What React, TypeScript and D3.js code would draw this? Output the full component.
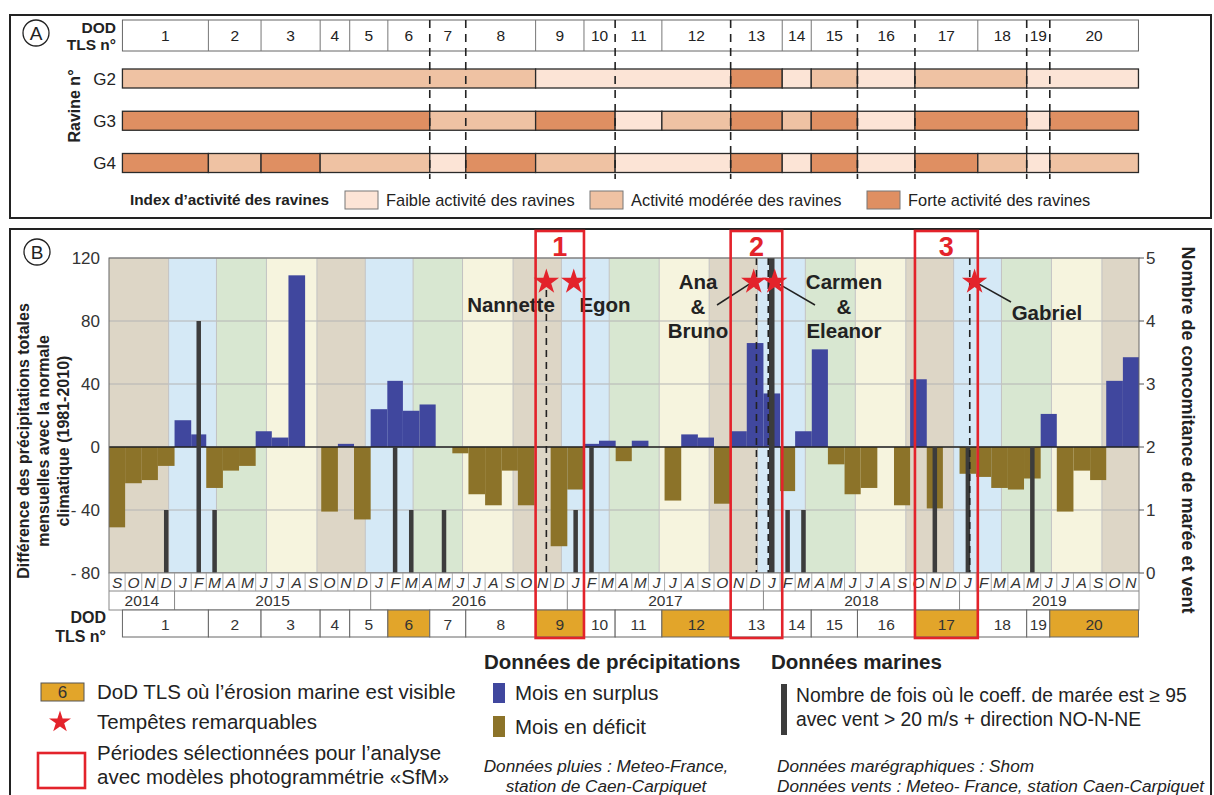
import React from "react";
import * as d3 from "d3";

const FONT = "'Liberation Sans', Arial, Helvetica, sans-serif";
const parse = d3.timeParse("%Y-%m-%d") as (s: string) => Date;

// ---------------- DATA ----------------
// Panel A : DoD TLS surveys
const dodNumbers = d3.range(1, 21);
const dodBoundaryDates = [
  "2014-09-26", "2015-03-05", "2015-06-11", "2015-09-29", "2015-11-23",
  "2016-02-02", "2016-04-20", "2016-06-26", "2016-11-03", "2017-02-01",
  "2017-03-31", "2017-06-26", "2017-11-01", "2018-02-05", "2018-03-31",
  "2018-06-25", "2018-10-10", "2019-02-04", "2019-05-06", "2019-06-18",
  "2019-11-30",
];
const marineErosionDods = [6, 9, 12, 17, 20];
const dashedAfterDod = [6, 7, 10, 12, 15, 16, 18, 19];
const ravineNames = ["G2", "G3", "G4"];
// 1 = faible, 2 = modérée, 3 = forte
const activityG2 = [2, 2, 2, 2, 2, 2, 2, 2, 1, 1, 1, 1, 3, 1, 2, 1, 2, 2, 1, 1];
const activityG3 = [3, 3, 3, 3, 3, 3, 2, 2, 3, 3, 1, 2, 3, 2, 3, 1, 3, 3, 1, 3];
const activityG4 = [3, 2, 3, 2, 2, 2, 1, 3, 2, 2, 1, 1, 3, 1, 3, 1, 3, 2, 1, 2];
const activityLabels = [
  "Faible activité des ravines",
  "Activité modérée des ravines",
  "Forte activité des ravines",
];

// Panel B : monthly data from Sep 2014 to Nov 2019
const monthStartDate = "2014-09-01";
const monthEndDate = "2019-12-01";
const monthLetters = ["J", "F", "M", "A", "M", "J", "J", "A", "S", "O", "N", "D"];
const yearLabels = [2014, 2015, 2016, 2017, 2018, 2019];
const precipitationDiff = [
  -51, -23, -21, -12, // 2014 S O N D
  17, 8, -26, -15, -12, 10, 6, 109, 0, -41, 2, -46, // 2015
  24, 42, 23, 27, 0, -4, -30, -37, -15, -37, 0, -63, // 2016
  -27, 2, 4, -9, 4, 0, -34, 8, 6, -36, 10, 66, // 2017
  34, -28, 10, 62, -11, -30, -26, 0, -37, 43, -39, 0, // 2018
  -17, -19, -26, -27, -20, 21, -41, -15, -21, 42, 57, // 2019 J..N
];
const marineMonthIndex = [3, 5, 6, 17, 18, 20, 28, 29, 40, 41, 42, 50, 52, 56];
const marineCount = [1, 4, 1, 2, 1, 1, 1, 2, 5, 1, 1, 2, 2, 2];
const seasonStarts = [
  "2014-09-01", "2014-12-21", "2015-03-20", "2015-06-21", "2015-09-23",
  "2015-12-22", "2016-03-20", "2016-06-20", "2016-09-22", "2016-12-21",
  "2017-03-20", "2017-06-21", "2017-09-22", "2017-12-21", "2018-03-20",
  "2018-06-21", "2018-09-23", "2018-12-21", "2019-03-20", "2019-06-21",
  "2019-09-23",
];
const seasonKinds = ["autumn", "winter", "spring", "summer"];
const leftTicks = [120, 80, 40, 0, -40, -80];
const leftTickLabels = ["120", "80", "40", "0", "- 40", "- 80"];
const rightTicks = [0, 1, 2, 3, 4, 5];
const stormLabels = [["Nannette"], ["Egon"], ["Ana", "&", "Bruno"], ["Carmen", "&", "Eleanor"], ["Gabriel"]];
const stormStarDates = ["2016-11-23", "2017-01-13", "2017-12-14", "2018-01-22", "2019-01-29"];
const stormLineDates = ["2016-11-23", null, "2017-12-19", "2018-01-10", "2019-01-20"];
const sfmPeriods = [9, 13, 17];

// ---------------- LAYOUT / STYLE ----------------
const W = 1214;
const H = 795;
const COL = {
  faible: "#fce4d6",
  moderee: "#efc2a3",
  forte: "#df8f62",
  autumn: "#ddd6c6",
  winter: "#d5e9f6",
  spring: "#d8e7d1",
  summer: "#f6f4de",
  surplus: "#40479e",
  deficit: "#8c7329",
  marine: "#3c3c3c",
  orange: "#e2a52a",
  red: "#e3232b",
  grid: "#b4b4b4",
};
const activityColors = [COL.faible, COL.moderee, COL.forte];
const seasonColor: Record<string, string> = {
  autumn: COL.autumn, winter: COL.winter, spring: COL.spring, summer: COL.summer,
};
const stormLayout = [
  { x: 511, y: 312, leader: null as null | number[] },
  { x: 605, y: 312, leader: null },
  { x: 698, y: 289, leader: [717, 305] },
  { x: 844, y: 289, leader: [815, 305] },
  { x: 1047, y: 320, leader: [1011, 302] },
];

function runs(arr: number[]) {
  const out: { s: number; e: number; v: number }[] = [];
  let s = 0;
  for (let i = 1; i <= arr.length; i++) {
    if (i === arr.length || arr[i] !== arr[s]) {
      out.push({ s, e: i, v: arr[s] });
      s = i;
    }
  }
  return out;
}

export default function App() {
  const t0 = parse(monthStartDate);
  const t1 = parse(monthEndDate);
  const plotL = 109, plotR = 1139, plotT = 258, plotB = 573;
  const x = d3.scaleTime().domain([t0, t1]).range([plotL, plotR]);
  const y = d3.scaleLinear().domain([-80, 120]).range([plotB, plotT]);
  const y2 = d3.scaleLinear().domain([0, 5]).range([plotB, plotT]);

  const dodX = dodBoundaryDates.map((d) => x(parse(d)));
  const months = precipitationDiff.map((v, i) => {
    const a = d3.timeMonth.offset(t0, i);
    const b = d3.timeMonth.offset(t0, i + 1);
    return { v, a, b, letter: monthLetters[a.getMonth()] };
  });

  const seasons = seasonStarts.map((s, i) => ({
    a: parse(s),
    b: i + 1 < seasonStarts.length ? parse(seasonStarts[i + 1]) : t1,
    kind: seasonKinds[i % 4],
  }));

  const starPath = d3.symbol().type(d3.symbolStar).size(200)() as string;
  const starPathSmall = d3.symbol().type(d3.symbolStar).size(150)() as string;

  // Panel A rows
  const rowY = d3.scalePoint<string>().domain(ravineNames).range([78.5, 163]);
  const rowH = 19;
  const activities = [activityG2, activityG3, activityG4];
  const hdrT = 20, hdrB = 51;

  // Panel B rows under plot
  const mRowT = plotB, mRowB = 591, yRowB = 610, dRowB = 637;

  return (
    <svg
      width={W}
      height={H}
      viewBox={`0 0 ${W} ${H}`}
      style={{ position: "absolute", left: 0, top: 0, background: "#fff", fontFamily: FONT }}
    >
      {/* ================= PANEL A ================= */}
      <rect x={10} y={15} width={1201} height={203} fill="none" stroke="#222" strokeWidth={2} />
      <circle cx={36} cy={33} r={13} fill="none" stroke="#222" strokeWidth={1.3} />
      <text x={36} y={40} textAnchor="middle" fontSize={19} fill="#222">A</text>
      <text x={116} y={33} textAnchor="end" fontSize={15.5} fontWeight="bold" fill="#222">DOD</text>
      <text x={116} y={50} textAnchor="end" fontSize={15.5} fontWeight="bold" fill="#222">TLS n°</text>

      {/* header cells */}
      <rect x={dodX[0]} y={hdrT} width={dodX[20] - dodX[0]} height={hdrB - hdrT} fill="#fff" stroke="#666" strokeWidth={1} />
      {dodNumbers.map((n, i) => (
        <g key={`h${n}`}>
          {i > 0 && !dashedAfterDod.includes(i) && (
            <line x1={dodX[i]} x2={dodX[i]} y1={hdrT} y2={hdrB} stroke="#777" strokeWidth={1} />
          )}
          <text x={(dodX[i] + dodX[i + 1]) / 2} y={41} textAnchor="middle" fontSize={15.5} fill="#222">{n}</text>
        </g>
      ))}

      {/* ravine rows */}
      {ravineNames.map((r, ri) => (
        <g key={r}>
          {runs(activities[ri]).map((seg, k) => (
            <rect
              key={k}
              x={dodX[seg.s]}
              y={(rowY(r) as number) - rowH / 2}
              width={dodX[seg.e] - dodX[seg.s]}
              height={rowH}
              fill={activityColors[seg.v - 1]}
              stroke="#2a2a2a"
              strokeWidth={1.3}
            />
          ))}
          <text x={116} y={(rowY(r) as number) + 6} textAnchor="end" fontSize={17} fill="#222">{r}</text>
        </g>
      ))}
      <text
        transform={`translate(80,${106}) rotate(-90)`}
        textAnchor="middle"
        fontSize={16}
        fontWeight="bold"
        fill="#222"
      >
        Ravine n°
      </text>
      {dashedAfterDod.map((n) => (
        <line key={`dl${n}`} x1={dodX[n]} x2={dodX[n]} y1={hdrT} y2={179} stroke="#222" strokeWidth={1.6} strokeDasharray="8 6" />
      ))}

      {/* panel A legend */}
      <text x={130} y={205} fontSize={15.3} fontWeight="bold" fill="#222">Index d’activité des ravines</text>
      {activityLabels.map((lab, i) => {
        const sx = [345, 590, 867][i];
        return (
          <g key={lab}>
            <rect x={sx} y={191} width={33} height={18} fill={activityColors[i]} stroke="#777" strokeWidth={1} />
            <text x={sx + 41} y={206} fontSize={16.4} fill="#222">{lab}</text>
          </g>
        );
      })}

      {/* ================= PANEL B ================= */}
      <rect x={10} y={229} width={1201} height={600} fill="none" stroke="#222" strokeWidth={2} />
      <circle cx={37} cy={252} r={13} fill="none" stroke="#222" strokeWidth={1.3} />
      <text x={37} y={259} textAnchor="middle" fontSize={19} fill="#222">B</text>

      {/* seasons */}
      {seasons.map((s, i) => (
        <rect key={`s${i}`} x={x(s.a)} y={plotT} width={x(s.b) - x(s.a)} height={plotB - plotT} fill={seasonColor[s.kind]} />
      ))}
      {/* gridlines */}
      {leftTicks.map((t) => (
        <line key={`g${t}`} x1={plotL} x2={plotR} y1={y(t)} y2={y(t)} stroke={COL.grid} strokeWidth={1} />
      ))}
      {seasons.slice(1).map((s, i) => (
        <line key={`sv${i}`} x1={x(s.a)} x2={x(s.a)} y1={plotT} y2={plotB} stroke="#c2c2c2" strokeWidth={1} />
      ))}

      {/* precipitation bars */}
      {months.map((m, i) =>
        m.v === 0 ? null : (
          <rect
            key={`p${i}`}
            x={x(m.a)}
            width={x(m.b) - x(m.a)}
            y={m.v > 0 ? y(m.v) : y(0)}
            height={Math.abs(y(m.v) - y(0))}
            fill={m.v > 0 ? COL.surplus : COL.deficit}
          />
        )
      )}
      <line x1={plotL} x2={plotR} y1={y(0)} y2={y(0)} stroke="#222" strokeWidth={1.3} />

      {/* marine bars */}
      {marineMonthIndex.map((mi, k) => {
        const a = d3.timeMonth.offset(t0, mi);
        const b = d3.timeMonth.offset(t0, mi + 1);
        const cx = (x(a) + x(b)) / 2;
        const w = marineCount[k] >= 5 ? 5.5 : 4.5;
        return (
          <rect key={`mr${k}`} x={cx - w / 2} width={w} y={y2(marineCount[k])} height={y2(0) - y2(marineCount[k])} fill={COL.marine} />
        );
      })}

      {/* storm dashed lines */}
      {stormLineDates.map((d, i) =>
        d ? (
          <line key={`sl${i}`} x1={x(parse(d))} x2={x(parse(d))} y1={i === 0 ? 290 : plotT} y2={plotB} stroke="#222" strokeWidth={1.6} strokeDasharray="7 5" />
        ) : null
      )}

      {/* plot frame */}
      <rect x={plotL} y={plotT} width={plotR - plotL} height={plotB - plotT} fill="none" stroke="#666" strokeWidth={1} />

      {/* storms */}
      {stormStarDates.map((d, i) => {
        const sx = x(parse(d));
        const sy = y2(4.62);
        const L = stormLayout[i];
        return (
          <g key={`st${i}`}>
            {L.leader && (
              <line x1={sx + (L.leader[0] > sx ? 4 : -4)} y1={sy + 2} x2={L.leader[0]} y2={L.leader[1]} stroke="#222" strokeWidth={1.5} />
            )}
            <path d={starPath} transform={`translate(${sx},${sy})`} fill={COL.red} />
            {stormLabels[i].map((line, j) => (
              <text key={j} x={L.x} y={L.y + j * 24.5} textAnchor="middle" fontSize={20.5} fontWeight="bold" fill="#222">
                {line}
              </text>
            ))}
          </g>
        );
      })}

      {/* left axis */}
      {leftTicks.map((t, i) => (
        <text key={`lt${t}`} x={100} y={y(t) + 6} textAnchor="end" fontSize={17} fill="#333">{leftTickLabels[i]}</text>
      ))}
      <text transform={`translate(0,441) rotate(-90)`} textAnchor="middle" fontSize={16} fontWeight="bold" fill="#222">
        <tspan x={0} y={29}>Différence des précipitations totales</tspan>
        <tspan x={0} y={49}>mensuelles avec la normale</tspan>
        <tspan x={0} y={69}>climatique (1981-2010)</tspan>
      </text>

      {/* right axis */}
      {rightTicks.map((t) => (
        <g key={`rt${t}`}>
          <line x1={plotR} x2={plotR + 5} y1={y2(t)} y2={y2(t)} stroke="#555" strokeWidth={1} />
          <text x={1146} y={y2(t) + 6} fontSize={17} fill="#333">{t}</text>
        </g>
      ))}
      <text transform={`translate(1182,430) rotate(90)`} textAnchor="middle" fontSize={18} fontWeight="bold" fill="#222">
        Nombre de concomitance de marée et vent
      </text>

      {/* month row */}
      <rect x={plotL} y={mRowT} width={plotR - plotL} height={yRowB - mRowT} fill="#fff" stroke="#888" strokeWidth={1} />
      <line x1={plotL} x2={plotR} y1={mRowB} y2={mRowB} stroke="#888" strokeWidth={1} />
      {months.map((m, i) => (
        <g key={`ml${i}`}>
          {i > 0 && <line x1={x(m.a)} x2={x(m.a)} y1={mRowT} y2={mRowB} stroke="#999" strokeWidth={0.8} />}
          <text x={(x(m.a) + x(m.b)) / 2} y={588} textAnchor="middle" fontSize={15.5} fontStyle="italic" fill="#333">{m.letter}</text>
        </g>
      ))}
      {/* year row */}
      {yearLabels.map((yr) => {
        const a = d3.max([t0, new Date(yr, 0, 1)]) as Date;
        const b = d3.min([t1, new Date(yr + 1, 0, 1)]) as Date;
        return (
          <g key={`y${yr}`}>
            {yr > 2014 && <line x1={x(a)} x2={x(a)} y1={mRowB} y2={yRowB} stroke="#888" strokeWidth={1} />}
            <text x={(x(a) + x(b)) / 2} y={606} textAnchor="middle" fontSize={15.5} fill="#333">{yr}</text>
          </g>
        );
      })}

      {/* DOD row */}
      <text x={106} y={623} textAnchor="end" fontSize={16} fontWeight="bold" fill="#222">DOD</text>
      <text x={106} y={642} textAnchor="end" fontSize={16} fontWeight="bold" fill="#222">TLS n°</text>
      {dodNumbers.map((n, i) => (
        <g key={`d${n}`}>
          <rect
            x={dodX[i]}
            y={yRowB}
            width={dodX[i + 1] - dodX[i]}
            height={dRowB - yRowB}
            fill={marineErosionDods.includes(n) ? COL.orange : "#fff"}
            stroke="#666"
            strokeWidth={1}
          />
          <text x={(dodX[i] + dodX[i + 1]) / 2} y={630} textAnchor="middle" fontSize={15.5} fill="#333">{n}</text>
        </g>
      ))}

      {/* SfM periods */}
      {sfmPeriods.map((n, k) => (
        <g key={`sfm${n}`}>
          <rect x={dodX[n - 1]} y={231} width={dodX[n] - dodX[n - 1]} height={638 - 231} fill="none" stroke={COL.red} strokeWidth={2.6} />
          <text x={(dodX[n - 1] + dodX[n]) / 2} y={256} textAnchor="middle" fontSize={27} fontWeight="bold" fill={COL.red}>{k + 1}</text>
        </g>
      ))}

      {/* ================= LEGEND ================= */}
      <rect x={41} y={683} width={43} height={18} fill={COL.orange} stroke="#555" strokeWidth={1} />
      <text x={62.5} y={698} textAnchor="middle" fontSize={17} fill="#333">6</text>
      <text x={97} y={699} fontSize={20.5} fill="#222">DoD TLS où l’érosion marine est visible</text>
      <path d={starPathSmall} transform="translate(60,722)" fill={COL.red} />
      <text x={97} y={729} fontSize={20.5} fill="#222">Tempêtes remarquables</text>
      <rect x={38} y={753} width={47} height={35} fill="none" stroke={COL.red} strokeWidth={2.6} />
      <text x={97} y={760} fontSize={20.5} fill="#222">Périodes sélectionnées pour l’analyse</text>
      <text x={97} y={784} fontSize={20.5} fill="#222">avec modèles photogrammétrie «SfM»</text>

      <text x={484} y={669} fontSize={20.5} fontWeight="bold" fill="#222">Données de précipitations</text>
      <rect x={493} y={683} width={12} height={20} fill={COL.surplus} />
      <text x={515} y={700} fontSize={20.5} fill="#222">Mois en surplus</text>
      <rect x={493} y={716} width={12} height={21} fill={COL.deficit} />
      <text x={515} y={734} fontSize={20.5} fill="#222">Mois en déficit</text>
      <text x={606} y={772} textAnchor="middle" fontSize={17.2} fontStyle="italic" fill="#222">Données pluies : Meteo-France,</text>
      <text x={606} y={792} textAnchor="middle" fontSize={17.2} fontStyle="italic" fill="#222">station de Caen-Carpiquet</text>

      <text x={771} y={669} fontSize={20.5} fontWeight="bold" fill="#222">Données marines</text>
      <rect x={781} y={684} width={6} height={51} fill={COL.marine} />
      <text x={796} y={702} fontSize={19.3} fill="#222">Nombre de fois où le coeff. de marée est ≥ 95</text>
      <text x={796} y={726} fontSize={19.3} fill="#222">avec vent &gt; 20 m/s + direction NO-N-NE</text>
      <text x={777} y={772} fontSize={17.2} fontStyle="italic" fill="#222">Données marégraphiques : Shom</text>
      <text x={777} y={792} fontSize={17.2} fontStyle="italic" fill="#222">Données vents : Meteo- France, station Caen-Carpiquet</text>
    </svg>
  );
}
